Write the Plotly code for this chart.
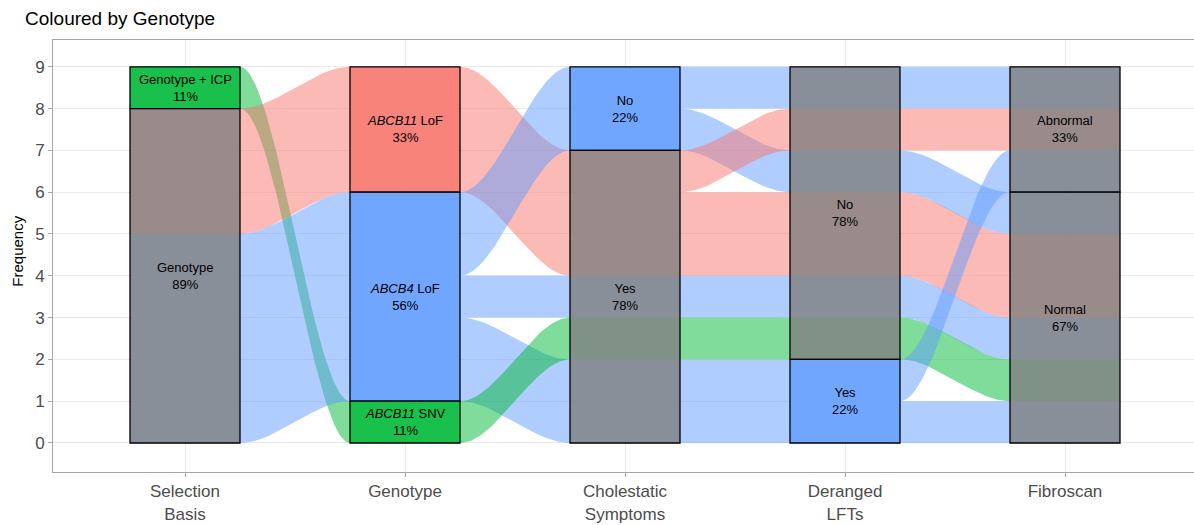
import plotly.graph_objects as go

# ---------------- data ----------------
axis_labels = ["Selection<br>Basis", "Genotype", "Cholestatic<br>Symptoms", "Deranged<br>LFTs", "Fibroscan"]

# one entry per individual (9 individuals)
selection_basis = ["Genotype", "Genotype", "Genotype", "Genotype", "Genotype",
                   "Genotype", "Genotype + ICP", "Genotype", "Genotype"]
genotype = ["ABCB4 LoF", "ABCB4 LoF", "ABCB11 LoF", "ABCB11 LoF", "ABCB11 LoF",
            "ABCB4 LoF", "ABCB11 SNV", "ABCB4 LoF", "ABCB4 LoF"]
cholestatic = ["No", "No", "Yes", "Yes", "Yes", "Yes", "Yes", "Yes", "Yes"]
deranged_lfts = ["No", "No", "No", "No", "No", "No", "No", "Yes", "Yes"]
fibroscan = ["Abnormal", "Normal", "Abnormal", "Normal", "Normal",
             "Normal", "Normal", "Abnormal", "Normal"]

# strata order, top to bottom
selection_levels = ["Genotype + ICP", "Genotype"]
genotype_levels = ["ABCB11 LoF", "ABCB4 LoF", "ABCB11 SNV"]
cholestatic_levels = ["No", "Yes"]
lft_levels = ["No", "Yes"]
fibroscan_levels = ["Abnormal", "Normal"]

genotype_display = {"ABCB11 LoF": "<i>ABCB11</i> LoF",
                    "ABCB4 LoF": "<i>ABCB4</i> LoF",
                    "ABCB11 SNV": "<i>ABCB11</i> SNV"}

genotype_colors = {"ABCB11 LoF": (248, 118, 109),
                   "ABCB11 SNV": (0, 186, 56),
                   "ABCB4 LoF": (97, 156, 255)}
na_grey = (127, 127, 127)

# ---------------- layout of alluvia ----------------
columns = [selection_basis, genotype, cholestatic, deranged_lfts, fibroscan]
levels = [selection_levels, genotype_levels, cholestatic_levels, lft_levels, fibroscan_levels]
n_axes = len(columns)
n = len(genotype)
xs = [i + 1 for i in range(n_axes)]
width = 0.5


def zigzag(i):
    order = []
    for d in range(1, n_axes):
        for j in (i + d, i - d):
            if 0 <= j < n_axes:
                order.append(j)
    return order


# positions: pos[axis][individual] = (bottom, top)
pos = []
for i in range(n_axes):
    zz = zigzag(i)

    def key(k, i=i, zz=zz):
        return tuple([levels[i].index(columns[i][k])] +
                     [levels[j].index(columns[j][k]) for j in zz] + [k])
    order = sorted(range(n), key=key)
    p = {}
    top = float(n)
    for k in order:
        p[k] = (top - 1, top)
        top -= 1
    pos.append(p)


def rgba(c, a):
    return f"rgba({c[0]},{c[1]},{c[2]},{a})"


def smooth(a, b, t):
    s = 3 * t * t - 2 * t ** 3
    return a + (b - a) * s


fig = go.Figure()


def add_poly(px, py, col):
    fig.add_trace(go.Scatter(x=px + [px[0]], y=py + [py[0]], mode="lines", fill="toself",
                             fillcolor=rgba(col, 0.5), line=dict(width=0),
                             hoverinfo="skip", showlegend=False))


# lodes under the strata (merge adjacent same-colour individuals)
for i in range(n_axes):
    order = sorted(range(n), key=lambda k: -pos[i][k][1])
    groups = []
    for k in order:
        g = genotype[k]
        if groups and groups[-1][0] == g and groups[-1][2] == pos[i][k][1]:
            groups[-1][2] = pos[i][k][0]
        else:
            groups.append([g, pos[i][k][1], pos[i][k][0]])
    for g, y1, y0 in groups:
        xl, xr = xs[i] - width / 2, xs[i] + width / 2
        add_poly([xl, xr, xr, xl], [y1, y1, y0, y0], genotype_colors[g])

# flows between adjacent axes (merge individuals that travel together)
steps = 50
for i in range(n_axes - 1):
    order = sorted(range(n), key=lambda k: -pos[i][k][1])
    groups = []
    for k in order:
        g = genotype[k]
        a0, a1 = pos[i][k]
        b0, b1 = pos[i + 1][k]
        if groups and groups[-1][0] == g and groups[-1][2] == a1 and groups[-1][4] == b1:
            groups[-1][2] = a0
            groups[-1][4] = b0
        else:
            groups.append([g, a1, a0, b1, b0])
    xr = xs[i] + width / 2
    nxl = xs[i + 1] - width / 2
    for g, a1, a0, b1, b0 in groups:
        tx, ty, bx, by = [], [], [], []
        for s in range(steps + 1):
            t = s / steps
            xx = xr + (nxl - xr) * t
            tx.append(xx)
            ty.append(smooth(a1, b1, t))
            bx.append(xx)
            by.append(smooth(a0, b0, t))
        add_poly(tx + bx[::-1], ty + by[::-1], genotype_colors[g])

# strata boxes + labels
shapes = []
annotations = []
for i in range(n_axes):
    for lev in levels[i]:
        members = [k for k in range(n) if columns[i][k] == lev]
        if not members:
            continue
        y0 = min(pos[i][k][0] for k in members)
        y1 = max(pos[i][k][1] for k in members)
        genos = set(genotype[k] for k in members)
        c = genotype_colors[genos.pop()] if len(genos) == 1 else na_grey
        shapes.append(dict(type="rect", xref="x", yref="y",
                           x0=xs[i] - width / 2, x1=xs[i] + width / 2, y0=y0, y1=y1,
                           fillcolor=rgba(c, 0.8), line=dict(color="black", width=1.3),
                           layer="above"))
        label = genotype_display.get(lev, lev) if i == 1 else lev
        pct = round(100 * len(members) / n)
        annotations.append(dict(x=xs[i], y=(y0 + y1) / 2, xref="x", yref="y",
                                text=f"{label}<br>{pct}%", showarrow=False,
                                font=dict(size=13, color="black")))

annotations.append(dict(x=0, y=0.51, xref="paper", yref="paper", xshift=-35,
                        text="Frequency", textangle=-90, showarrow=False,
                        xanchor="center", yanchor="middle",
                        font=dict(size=15, color="black")))

fig.update_layout(
    width=1194, height=525,
    margin=dict(l=53, r=0, t=40, b=53),
    paper_bgcolor="white", plot_bgcolor="white",
    font=dict(family="Liberation Sans, Arial, sans-serif"),
    title=dict(text="Coloured by Genotype", x=0.021, xref="container", xanchor="left",
               y=1 - 18 / 525, yref="container", yanchor="middle",
               font=dict(size=19, color="black")),
    shapes=shapes, annotations=annotations,
    xaxis=dict(range=[0.4, 0.4 + 1141 / 220], tickvals=xs, ticktext=axis_labels,
               showgrid=True, gridcolor="#EBEBEB", gridwidth=1, zeroline=False,
               showline=True, linecolor="#A6A6A6", linewidth=1, mirror=True,
               ticks="outside", ticklen=4, tickcolor="#A6A6A6",
               tickfont=dict(size=17, color="#4D4D4D")),
    yaxis=dict(range=[-0.694, 9.641], tickvals=list(range(10)),
               showgrid=True, gridcolor="#EBEBEB", gridwidth=1, zeroline=False,
               showline=True, linecolor="#A6A6A6", linewidth=1,
               ticks="outside", ticklen=4, tickcolor="#A6A6A6",
               tickfont=dict(size=17, color="#4D4D4D")),
)

fig.write_html("out.html", config={"displayModeBar": False},
               post_script="document.body.style.margin='0px';")
